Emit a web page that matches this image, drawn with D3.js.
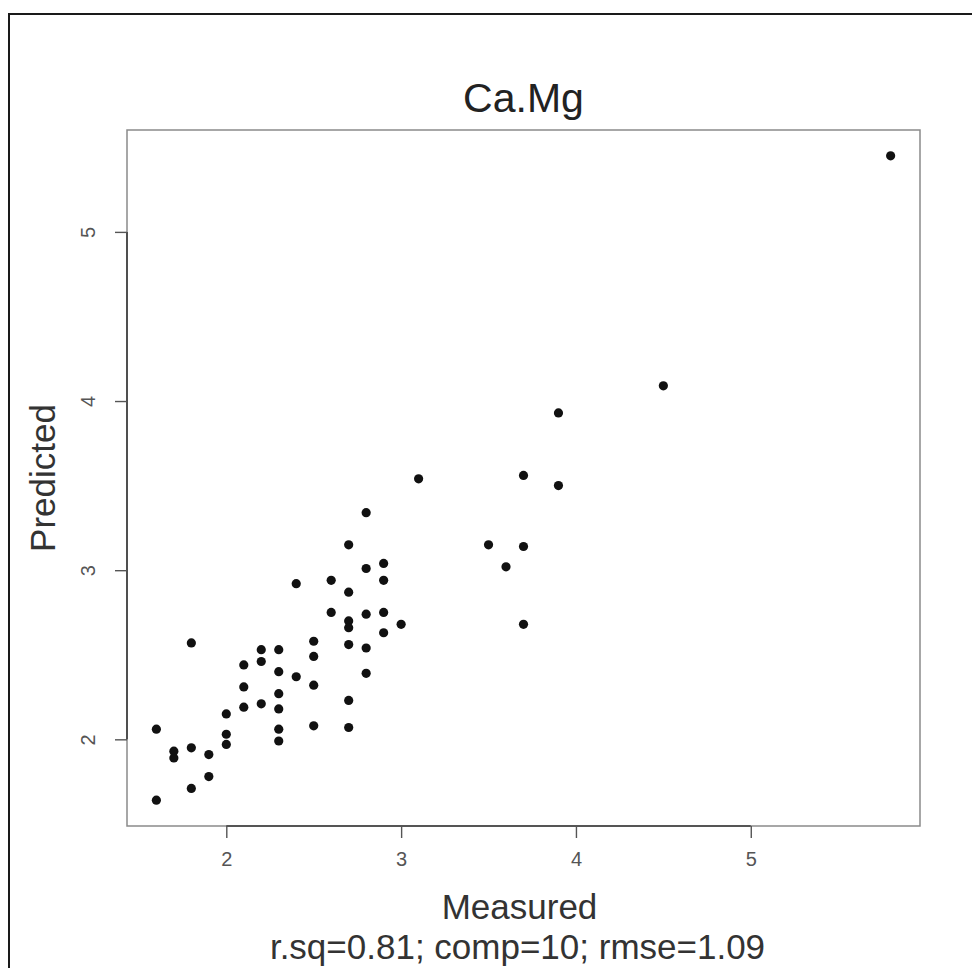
<!DOCTYPE html>
<html>
<head>
<meta charset="utf-8">
<script src="https://cdn.jsdelivr.net/npm/d3@7"></script>
<style>
  html, body { margin: 0; padding: 0; background: #fff; }
  svg { display: block; font-family: "Liberation Sans", Arial, Helvetica, sans-serif; }
</style>
</head>
<body>
<svg id="chart" width="972" height="968"></svg>
<script>
// Measured vs predicted Ca.Mg values
const measured = [
  1.6, 1.6,
  1.7, 1.7,
  1.8, 1.8, 1.8,
  1.9, 1.9,
  2.0, 2.0, 2.0,
  2.1, 2.1, 2.1,
  2.2, 2.2, 2.2,
  2.3, 2.3, 2.3, 2.3, 2.3, 2.3,
  2.4, 2.4,
  2.5, 2.5, 2.5, 2.5,
  2.6, 2.6,
  2.7, 2.7, 2.7, 2.7, 2.7, 2.7, 2.7,
  2.8, 2.8, 2.8, 2.8, 2.8,
  2.9, 2.9, 2.9, 2.9,
  3.0,
  3.1,
  3.5,
  3.6,
  3.7, 3.7, 3.7,
  3.9, 3.9,
  4.5,
  5.8
];
const predicted = [
  2.06, 1.64,
  1.93, 1.89,
  2.57, 1.95, 1.71,
  1.91, 1.78,
  2.15, 2.03, 1.97,
  2.44, 2.31, 2.19,
  2.53, 2.46, 2.21,
  2.53, 2.40, 2.27, 2.18, 2.06, 1.99,
  2.92, 2.37,
  2.58, 2.49, 2.32, 2.08,
  2.94, 2.75,
  3.15, 2.87, 2.70, 2.66, 2.56, 2.23, 2.07,
  3.34, 3.01, 2.74, 2.54, 2.39,
  3.04, 2.94, 2.75, 2.63,
  2.68,
  3.54,
  3.15,
  3.02,
  3.56, 3.14, 2.68,
  3.93, 3.50,
  4.09,
  5.45
];
const xTicks = [2, 3, 4, 5];
const yTicks = [2, 3, 4, 5];
const titleText = "Ca.Mg";
const xLabel = "Measured";
const yLabel = "Predicted";
const statsText = "r.sq=0.81; comp=10; rmse=1.09";

const svg = d3.select("#chart");
const plot = { left: 127, right: 920, top: 130, bottom: 826 };

// Axis limits padded by 4% of the data range on each side
function padded(vals) {
  const [lo, hi] = d3.extent(vals);
  const pad = (hi - lo) * 0.04;
  return [lo - pad, hi + pad];
}
const x = d3.scaleLinear().domain(padded(measured)).range([plot.left, plot.right]);
const y = d3.scaleLinear().domain(padded(predicted)).range([plot.bottom, plot.top]);

// Outer page frame (top and left edges)
svg.append("path")
  .attr("d", "M9,968 L9,14 L972,14")
  .attr("fill", "none")
  .attr("stroke", "#1a1a1a")
  .attr("stroke-width", 2);

// Plot box
svg.append("rect")
  .attr("x", plot.left).attr("y", plot.top)
  .attr("width", plot.right - plot.left)
  .attr("height", plot.bottom - plot.top)
  .attr("fill", "none")
  .attr("stroke", "#8a8a8a")
  .attr("stroke-width", 1.5);

// Bottom axis
const xAxis = d3.axisBottom(x).tickValues(xTicks).tickSize(12).tickPadding(14)
  .tickFormat(d3.format("d"));
const gx = svg.append("g")
  .attr("transform", `translate(0,${plot.bottom})`)
  .call(xAxis);
gx.select(".domain")
  .attr("d", `M${x(xTicks[0])},0H${x(xTicks[xTicks.length - 1])}`)
  .attr("stroke", "#3a3a3a").attr("stroke-width", 1.6);
gx.selectAll(".tick line").attr("stroke", "#555").attr("stroke-width", 1.4);
gx.selectAll(".tick text")
  .attr("fill", "#555").attr("font-size", 20)
  .attr("font-family", "'Liberation Sans', Arial, sans-serif");

// Left axis with labels rotated parallel to the axis
const yAxis = d3.axisLeft(y).tickValues(yTicks).tickSize(12).tickPadding(14)
  .tickFormat(d3.format("d"));
const gy = svg.append("g")
  .attr("transform", `translate(${plot.left},0)`)
  .call(yAxis);
gy.select(".domain")
  .attr("d", `M0,${y(yTicks[0])}V${y(yTicks[yTicks.length - 1])}`)
  .attr("stroke", "#3a3a3a").attr("stroke-width", 1.6);
gy.selectAll(".tick line").attr("stroke", "#555").attr("stroke-width", 1.4);
gy.selectAll(".tick text")
  .attr("fill", "#555").attr("font-size", 20)
  .attr("font-family", "'Liberation Sans', Arial, sans-serif")
  .attr("x", null).attr("dy", null)
  .attr("text-anchor", "middle")
  .attr("dominant-baseline", "central")
  .attr("transform", "translate(-39,0) rotate(-90)");

// Points
svg.append("g")
  .selectAll("circle")
  .data(measured.map((m, i) => [m, predicted[i]]))
  .join("circle")
  .attr("cx", d => x(d[0]))
  .attr("cy", d => y(d[1]))
  .attr("r", 4.6)
  .attr("fill", "#111");

// Title
svg.append("text")
  .attr("x", (plot.left + plot.right) / 2)
  .attr("y", 112)
  .attr("text-anchor", "middle")
  .attr("font-size", 41)
  .attr("fill", "#222")
  .text(titleText);

// Axis titles
svg.append("text")
  .attr("x", (plot.left + plot.right) / 2 - 4)
  .attr("y", 919)
  .attr("text-anchor", "middle")
  .attr("font-size", 35)
  .attr("fill", "#333")
  .text(xLabel);

svg.append("text")
  .attr("transform", `translate(55,${(plot.top + plot.bottom) / 2}) rotate(-90)`)
  .attr("text-anchor", "middle")
  .attr("font-size", 35)
  .attr("fill", "#333")
  .text(yLabel);

// Model statistics line
svg.append("text")
  .attr("x", (plot.left + plot.right) / 2 - 6)
  .attr("y", 959)
  .attr("text-anchor", "middle")
  .attr("font-size", 35)
  .attr("fill", "#333")
  .text(statsText);
</script>
</body>
</html>
